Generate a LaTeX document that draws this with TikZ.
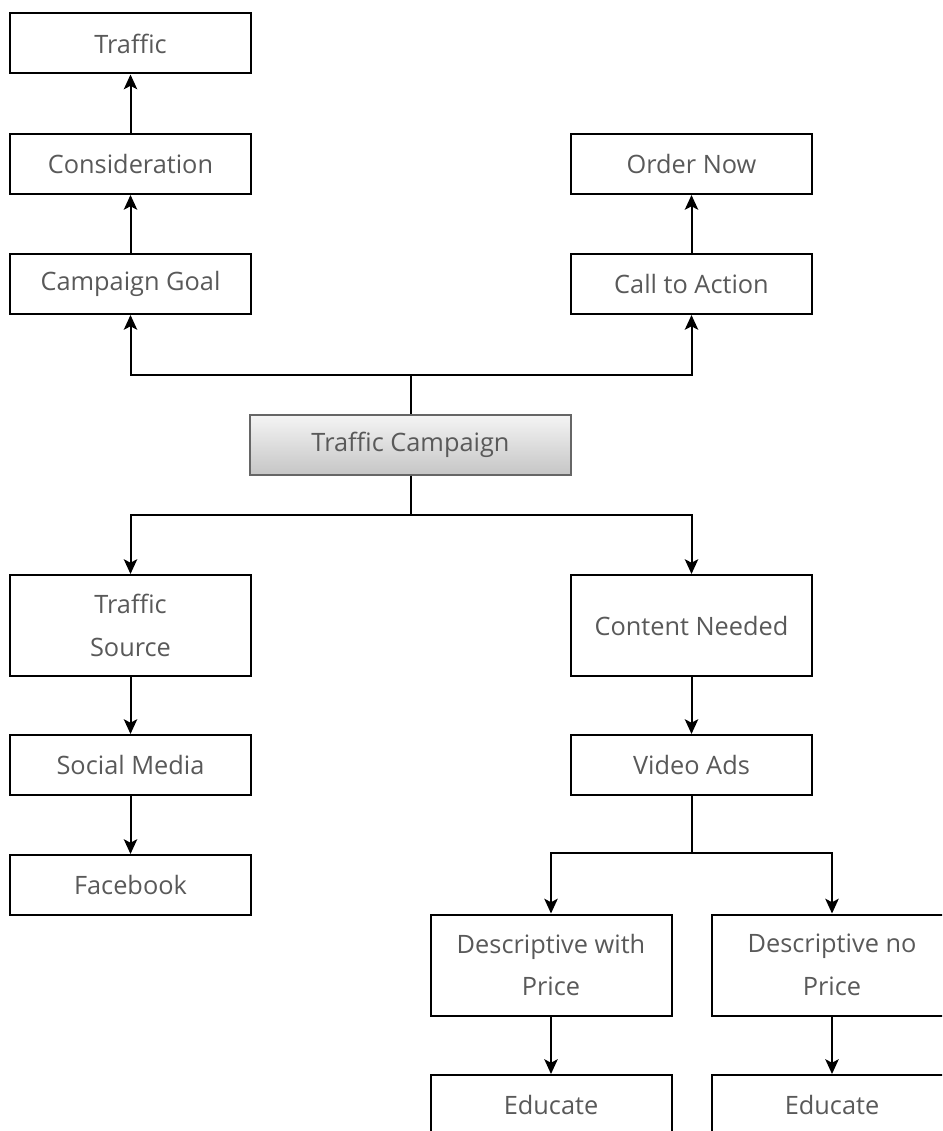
\documentclass[tikz,border=0pt]{standalone}
\usepackage{fontspec}
\setmainfont{Open Sans}
\usepackage{tikz}
\usetikzlibrary{arrows.meta}

\begin{document}
\begin{tikzpicture}[x=0.75pt, y=-0.75pt,
	caja/.style={rectangle, draw, line width=1.5pt, minimum width=180.75pt, minimum height=45pt, inner sep=0pt, font=\fontsize{19}{22}\selectfont, text=black!65, align=center},
	cajaalta/.style={caja, minimum height=75.75pt},
	central/.style={caja, draw=gray!80!black, minimum width=240.75pt, top color=gray!8, bottom color=gray!45},
	flecha/.style={line width=1.5pt, -{Stealth[length=11pt, width=10pt, inset=2.5pt]}},
	linea/.style={line width=1.5pt}
	]

	\useasboundingbox (0,0) rectangle (942,1131);
	\clip (0,0) rectangle (942,1131);

	%Nodo central
		\node[central] (camp) at (410.5,444.5) {Traffic Campaign};
	%Rama de arriba, izquierda
		\node[caja] (goal) at (130.5,284) {Campaign Goal};
		\node[caja] (consid) at (130.5,164) {Consideration};
		\node[caja] (traffic) at (130.5,43.5) {Traffic};
	%Rama de arriba, derecha
		\node[caja] (cta) at (691.5,284) {Call to Action};
		\node[caja] (order) at (691.5,164) {Order Now};
	%Rama de abajo, izquierda
		\node[cajaalta] (source) at (130.5,625.5) {Traffic\\[10pt]Source};
		\node[caja] (social) at (130.5,765) {Social Media};
		\node[caja] (fb) at (130.5,885) {Facebook};
	%Rama de abajo, derecha
		\node[cajaalta] (content) at (691.5,625.5) {Content Needed};
		\node[caja] (video) at (691.5,765) {Video Ads};
		\node[cajaalta] (descw) at (551,965) {Descriptive with\\[10pt]Price};
		\node[cajaalta] (descn) at (832,965) {Descriptive no\\[10pt]Price};
		\node[caja] (eduw) at (551,1105) {Educate};
		\node[caja] (edun) at (832,1105) {Educate};

	%Puntos de reparto
		\coordinate (sarriba) at (410.5,375);
		\coordinate (sabajo) at (410.5,515);
		\coordinate (svideo) at (691.5,853);

	%Conectores de arriba
		\draw[linea] (camp) -- (sarriba);
		\draw[flecha] (sarriba) -| (goal);
		\draw[flecha] (sarriba) -| (cta);
		\draw[flecha] (goal) -- (consid);
		\draw[flecha] (consid) -- (traffic);
		\draw[flecha] (cta) -- (order);
	%Conectores de abajo
		\draw[linea] (camp) -- (sabajo);
		\draw[flecha] (sabajo) -| (source);
		\draw[flecha] (sabajo) -| (content);
		\draw[flecha] (source) -- (social);
		\draw[flecha] (social) -- (fb);
		\draw[flecha] (content) -- (video);
		\draw[linea] (video) -- (svideo);
		\draw[flecha] (svideo) -| (descw);
		\draw[flecha] (svideo) -| (descn);
		\draw[flecha] (descw) -- (eduw);
		\draw[flecha] (descn) -- (edun);
\end{tikzpicture}
\end{document}
